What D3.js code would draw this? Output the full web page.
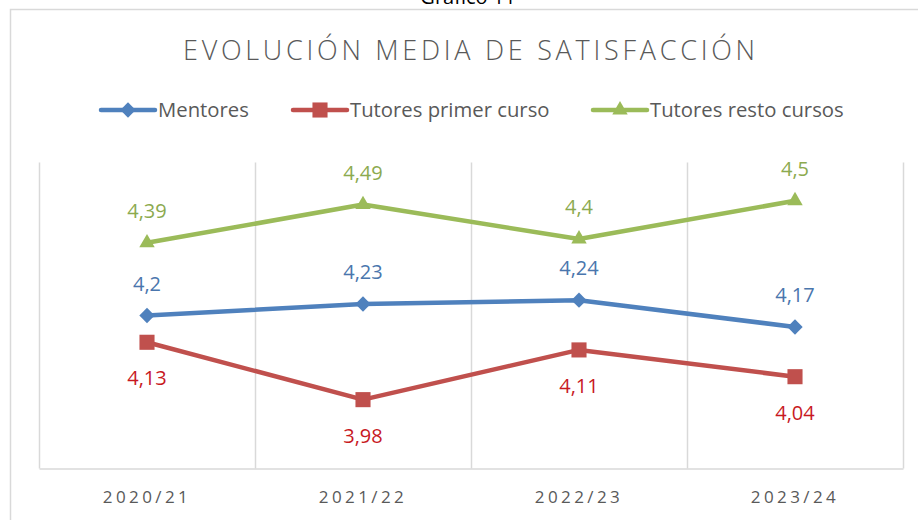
<!DOCTYPE html>
<html>
<head>
<meta charset="utf-8">
<script src="https://cdn.jsdelivr.net/npm/d3@7"></script>
<style>
  body { margin: 0; background: #fff; }
  text { font-family: "Open Sans", sans-serif; }
</style>
</head>
<body>
<script>
// chart data
var years = ["2020/21", "2021/22", "2022/23", "2023/24"];
var seriesNames = ["Mentores", "Tutores primer curso", "Tutores resto cursos"];
var mentores = [4.2, 4.23, 4.24, 4.17];
var tutoresPrimer = [4.13, 3.98, 4.11, 4.04];
var tutoresResto = [4.39, 4.49, 4.4, 4.5];
var yDomain = [3.8, 4.6];

var w = 918, h = 520;

var svg = d3.select("body").append("svg")
    .attr("width", w)
    .attr("height", h);

// outer chart frame
svg.append("rect")
    .attr("x", 10.5).attr("y", 9.5)
    .attr("width", 930).attr("height", 540)
    .style("fill", "none")
    .style("stroke", "#d9d9d9")
    .style("stroke-width", 1.5);

// caption, cut off at the top like in the source
svg.append("text")
    .attr("x", 468).attr("y", 4)
    .attr("text-anchor", "middle")
    .style("font-size", "20px")
    .style("fill", "#000")
    .text("Gráfico 11");

// title
svg.append("text")
    .attr("x", 183).attr("y", 60)
    .attr("textLength", 572)
    .attr("lengthAdjust", "spacing")
    .style("font-size", "27px")
    .style("font-weight", 300)
    .style("fill", "#595959")
    .text("EVOLUCIÓN MEDIA DE SATISFACCIÓN");

// scales
var x = d3.scaleBand().domain(years).range([39, 903]);
var y = d3.scaleLinear().domain(yDomain).range([468.5, 162.5]);

// vertical gridlines at category boundaries
var bounds = years.map(function(d){ return x(d); }).concat([x.range()[1]]);
svg.selectAll(".grid")
    .data(bounds)
    .enter()
    .append("line")
    .attr("class", "grid")
    .attr("x1", function(d){ return Math.round(d) + 0.5; })
    .attr("x2", function(d){ return Math.round(d) + 0.5; })
    .attr("y1", y(yDomain[1]))
    .attr("y2", y(yDomain[0]))
    .style("stroke", "#d9d9d9")
    .style("stroke-width", 1.5);

// x axis
var xAxis = svg.append("g")
    .attr("transform", "translate(0," + y(yDomain[0]) + ")")
    .call(d3.axisBottom(x).tickSize(0).tickPadding(22));
xAxis.select(".domain").style("stroke", "#d9d9d9").style("stroke-width", 1.5);
xAxis.selectAll("text")
    .style("font-family", "Open Sans, sans-serif")
    .style("font-size", "17px")
    .style("letter-spacing", "3.4px")
    .style("fill", "#595959");

var series = [
    { name: seriesNames[0], values: mentores, color: "#4f81bd", label: "#4a76ad", shape: d3.symbolDiamond2, size: 150, pos: "above" },
    { name: seriesNames[1], values: tutoresPrimer, color: "#c0504d", label: "#c8191f", shape: d3.symbolSquare2, size: 290, pos: "below" },
    { name: seriesNames[2], values: tutoresResto, color: "#9bbb59", label: "#8caa4f", shape: d3.symbolTriangle2, size: 170, pos: "above" }
];

var cx = function(i){ return x(years[i]) + x.bandwidth() / 2; };
var line = d3.line()
    .x(function(d, i){ return cx(i); })
    .y(function(d){ return y(d); });
var fmt = function(v){ return String(v).replace(".", ","); };

series.forEach(function(s){
    svg.append("path")
        .datum(s.values)
        .attr("d", line)
        .style("fill", "none")
        .style("stroke", s.color)
        .style("stroke-width", 4.5)
        .style("stroke-linejoin", "round");

    svg.selectAll(null)
        .data(s.values)
        .enter()
        .append("path")
        .attr("d", d3.symbol().type(s.shape).size(s.size))
        .attr("transform", function(d, i){ return "translate(" + cx(i) + "," + y(d) + ")"; })
        .style("fill", s.color);

    svg.selectAll(null)
        .data(s.values)
        .enter()
        .append("text")
        .attr("x", function(d, i){ return cx(i); })
        .attr("y", function(d){ return s.pos === "above" ? y(d) - 25 : y(d) + 43; })
        .attr("text-anchor", "middle")
        .style("font-size", "20px")
        .style("fill", s.label)
        .text(fmt);
});

// legend
var legendX = [101, 293, 593];
series.forEach(function(s, i){
    var g = svg.append("g").attr("transform", "translate(" + legendX[i] + ",110)");
    g.append("line")
        .attr("x1", 0).attr("x2", 54)
        .style("stroke", s.color)
        .style("stroke-width", 4.5)
        .style("stroke-linecap", "round");
    g.append("path")
        .attr("d", d3.symbol().type(s.shape).size(s.size))
        .attr("transform", "translate(27,0)")
        .style("fill", s.color);
    g.append("text")
        .attr("x", 57).attr("y", 7)
        .style("font-size", "20.3px")
        .style("fill", "#595959")
        .text(s.name);
});
</script>
</body>
</html>
